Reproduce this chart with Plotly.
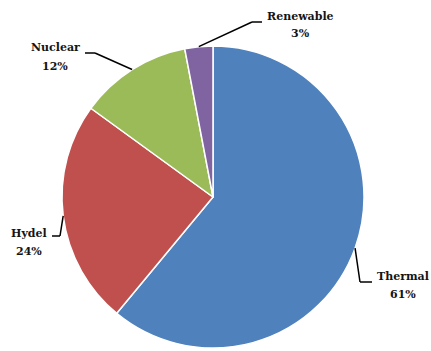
import math
import plotly.graph_objects as go

# Data
categories = ["Thermal", "Hydel", "Nuclear", "Renewable"]
values = [61, 24, 12, 3]
colors = ["#4F81BD", "#C0504D", "#9BBB59", "#8064A2"]

W, H = 431, 351
CX, CY, R = 213, 197, 151  # pie centre / radius in pixels

# label layout (pixel centres of the two text lines) and leader-line elbows
label_pos = {
    "Thermal":   dict(x=403, y1=276, y2=294, elbow=(360, 282), end=(372, 282)),
    "Hydel":     dict(x=29,  y1=233, y2=251, elbow=(60, 236), end=(52, 236)),
    "Nuclear":   dict(x=55,  y1=48,  y2=66,  elbow=(95, 53), end=(85, 53)),
    "Renewable": dict(x=300, y1=17,  y2=34,  elbow=(252, 22), end=(262, 22)),
}

def px(x):
    return x / W

def py(y):
    return 1 - y / H

fig = go.Figure(go.Pie(
    labels=categories,
    values=values,
    sort=False,
    direction="clockwise",
    rotation=0,
    marker=dict(colors=colors, line=dict(color="white", width=1.5)),
    textinfo="none",
    showlegend=False,
    domain=dict(x=[px(CX - R), px(CX + R)], y=[py(CY + R), py(CY - R)]),
))

total = sum(values)
cum = 0
annotations = []
shapes = []
font = dict(family="DejaVu Serif", size=11, color="#141414", weight="bold")
for cat, v in zip(categories, values):
    mid = (cum + v / 2) / total * 2 * math.pi
    cum += v
    ex = CX + R * math.sin(mid)
    ey = CY - R * math.cos(mid)
    lp = label_pos[cat]
    pts = [(ex, ey), lp["elbow"], lp["end"]]
    for (x0, y0), (x1, y1) in zip(pts[:-1], pts[1:]):
        shapes.append(dict(type="line", xref="paper", yref="paper",
                           x0=px(x0), y0=py(y0), x1=px(x1), y1=py(y1),
                           line=dict(color="#000000", width=1.5)))
    pct = f"{round(v / total * 100)}%"
    annotations.append(dict(x=px(lp["x"]), y=py(lp["y1"]), xref="paper", yref="paper",
                            text=f"<b>{cat}</b>", showarrow=False, font=font,
                            xanchor="center", yanchor="middle"))
    annotations.append(dict(x=px(lp["x"]), y=py(lp["y2"]), xref="paper", yref="paper",
                            text=f"<b>{pct}</b>", showarrow=False, font=font,
                            xanchor="center", yanchor="middle"))

fig.update_layout(
    width=W, height=H,
    margin=dict(l=0, r=0, t=0, b=0),
    paper_bgcolor="white", plot_bgcolor="white",
    annotations=annotations, shapes=shapes,
)

fig.write_html("out.html")
